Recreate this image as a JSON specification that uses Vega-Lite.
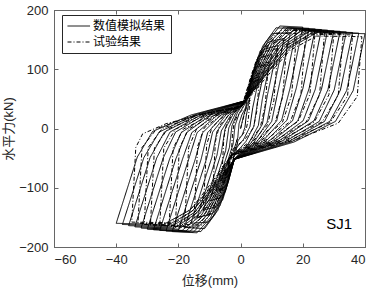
{
"$schema": "https://vega.github.io/schema/vega-lite/v6.json",
"width": 311, "height": 237,
"autosize": "none",
"padding": {"left": 54, "top": 10, "right": 13, "bottom": 42},
"background": "white",
"config": {
  "view": {"stroke": "#666666", "strokeWidth": 1},
  "axis": {"grid": false, "domainColor": "#666666", "tickColor": "#666666", "labelColor": "#262626", "titleColor": "#262626", "labelFont": "Liberation Sans", "labelFontSize": 13, "titleFont": "Liberation Sans, Noto Sans CJK SC", "titleFontSize": 13, "titleFontWeight": "normal", "tickSize": -4, "labelPadding": 10}
},
"datasets": {
"sim": [
{"x":0,"y":0},{"x":1,"y":22},{"x":2,"y":40},{"x":3,"y":52},
{"x":1.8,"y":21},{"x":1.4,"y":2},{"x":0.5,"y":-11},{"x":-0.9,"y":-21},{"x":-1.3,"y":-34},{"x":-1.7,"y":-44},{"x":-2.2,"y":-48},{"x":-3,"y":-50},
{"x":-0.9,"y":-15},{"x":-0.5,"y":8},{"x":0.4,"y":23},{"x":1.6,"y":35},{"x":2.5,"y":59},{"x":3.3,"y":77},{"x":4.2,"y":84},{"x":6,"y":88},
{"x":3.9,"y":35},{"x":3.0,"y":3},{"x":1.0,"y":-18},{"x":-1.8,"y":-36},{"x":-2.6,"y":-58},{"x":-3.4,"y":-75},{"x":-4.3,"y":-82},{"x":-6,"y":-85},
{"x":-2.4,"y":-26},{"x":-1.8,"y":5},{"x":-0.4,"y":26},{"x":1.6,"y":43},{"x":2.9,"y":72},{"x":4.0,"y":95},{"x":5.4,"y":104},{"x":8,"y":108},
{"x":5.4,"y":43},{"x":4.3,"y":4},{"x":1.7,"y":-22},{"x":-2,"y":-44},{"x":-3.2,"y":-71},{"x":-4.3,"y":-93},{"x":-5.6,"y":-101},{"x":-8,"y":-105},
{"x":-3.6,"y":-32},{"x":-2.8,"y":4},{"x":-1.0,"y":27},{"x":1.6,"y":47},{"x":3.3,"y":82},{"x":4.8,"y":109},{"x":6.6,"y":120},{"x":10,"y":125},
{"x":7.0,"y":50},{"x":5.7,"y":5},{"x":2.5,"y":-26},{"x":-2,"y":-51},{"x":-3.6,"y":-83},{"x":-5.0,"y":-108},{"x":-6.8,"y":-117},{"x":-10,"y":-122},
{"x":-4.8,"y":-37},{"x":-3.8,"y":1},{"x":-1.6,"y":26},{"x":1.6,"y":47},{"x":3.7,"y":89},{"x":5.6,"y":121},{"x":7.8,"y":134},{"x":12,"y":140},
{"x":8.6,"y":56},{"x":7.0,"y":7},{"x":3.3,"y":-25},{"x":-2,"y":-52},{"x":-4.0,"y":-91},{"x":-5.8,"y":-121},{"x":-8.0,"y":-132},{"x":-12,"y":-138},
{"x":-6.2,"y":-41},{"x":-5.0,"y":-1},{"x":-2.3,"y":25},{"x":1.6,"y":47},{"x":4.1,"y":94},{"x":6.3,"y":131},{"x":9.0,"y":146},{"x":14,"y":152},
{"x":10.4,"y":61},{"x":8.5,"y":10},{"x":4.2,"y":-24},{"x":-2,"y":-52},{"x":-4.4,"y":-96},{"x":-6.6,"y":-130},{"x":-9.2,"y":-144},{"x":-14,"y":-150},
{"x":-7.6,"y":-45},{"x":-6.2,"y":-4},{"x":-3.0,"y":24},{"x":1.6,"y":47},{"x":4.5,"y":99},{"x":7.1,"y":139},{"x":10.2,"y":160},{"x":16,"y":162},
{"x":12.1,"y":65},{"x":10.0,"y":12},{"x":5.1,"y":-23},{"x":-2,"y":-52},{"x":-4.8,"y":-101},{"x":-7.3,"y":-138},{"x":-10.4,"y":-158},{"x":-16,"y":-160},
{"x":-9.2,"y":-48},{"x":-7.6,"y":-5},{"x":-3.8,"y":23},{"x":1.6,"y":47},{"x":4.9,"y":101},{"x":7.8,"y":144},{"x":11.4,"y":170},{"x":18,"y":168},
{"x":14.0,"y":67},{"x":11.6,"y":13},{"x":6.0,"y":-22},{"x":-2,"y":-52},{"x":-5.2,"y":-104},{"x":-8.1,"y":-144},{"x":-11.6,"y":-169},{"x":-18,"y":-167},
{"x":-10.9,"y":-50},{"x":-9.0,"y":-6},{"x":-4.7,"y":23},{"x":1.6,"y":47},{"x":5.3,"y":103},{"x":8.6,"y":146},{"x":12.6,"y":173},{"x":20,"y":171},
{"x":15.9,"y":68},{"x":13.2,"y":14},{"x":7.0,"y":-22},{"x":-2,"y":-52},{"x":-5.6,"y":-106},{"x":-8.8,"y":-148},{"x":-12.8,"y":-174},{"x":-20,"y":-172},
{"x":-12.7,"y":-52},{"x":-10.6,"y":-7},{"x":-5.6,"y":22},{"x":1.6,"y":47},{"x":5.7,"y":102},{"x":9.4,"y":145},{"x":13.8,"y":171},{"x":22,"y":169},
{"x":17.9,"y":68},{"x":14.9,"y":14},{"x":8.0,"y":-22},{"x":-2,"y":-52},{"x":-6.0,"y":-107},{"x":-9.6,"y":-150},{"x":-14.0,"y":-176},{"x":-22,"y":-174},
{"x":-14.6,"y":-52},{"x":-12.2,"y":-7},{"x":-6.5,"y":22},{"x":1.6,"y":47},{"x":6.1,"y":101},{"x":10.1,"y":144},{"x":15.0,"y":170},{"x":24,"y":168},
{"x":20.0,"y":67},{"x":16.7,"y":13},{"x":9.0,"y":-22},{"x":-2,"y":-52},{"x":-6.4,"y":-106},{"x":-10.4,"y":-149},{"x":-15.2,"y":-175},{"x":-24,"y":-173},
{"x":-16.7,"y":-52},{"x":-14.0,"y":-7},{"x":-7.6,"y":22},{"x":1.6,"y":47},{"x":6.5,"y":101},{"x":10.9,"y":143},{"x":16.2,"y":169},{"x":26,"y":167},
{"x":22.0,"y":67},{"x":18.4,"y":13},{"x":10.0,"y":-22},{"x":-2,"y":-52},{"x":-6.8,"y":-106},{"x":-11.1,"y":-148},{"x":-16.4,"y":-174},{"x":-26,"y":-172},
{"x":-18.7,"y":-52},{"x":-15.7,"y":-7},{"x":-8.6,"y":22},{"x":1.6,"y":47},{"x":6.9,"y":101},{"x":11.6,"y":142},{"x":17.4,"y":168},{"x":28,"y":166},
{"x":24.0,"y":66},{"x":20.1,"y":13},{"x":11.0,"y":-22},{"x":-2,"y":-52},{"x":-7.2,"y":-106},{"x":-11.9,"y":-147},{"x":-17.6,"y":-173},{"x":-28,"y":-171},
{"x":-20.8,"y":-51},{"x":-17.4,"y":-7},{"x":-9.6,"y":23},{"x":1.6,"y":47},{"x":7.3,"y":100},{"x":12.4,"y":141},{"x":18.6,"y":167},{"x":30,"y":165},
{"x":26.0,"y":66},{"x":21.8,"y":13},{"x":12.0,"y":-22},{"x":-2,"y":-52},{"x":-7.6,"y":-105},{"x":-12.6,"y":-146},{"x":-18.8,"y":-172},{"x":-30,"y":-170},
{"x":-22.8,"y":-51},{"x":-19.1,"y":-7},{"x":-10.6,"y":23},{"x":1.6,"y":47},{"x":7.7,"y":100},{"x":13.2,"y":141},{"x":19.8,"y":166},{"x":32,"y":164},
{"x":28.1,"y":66},{"x":23.6,"y":13},{"x":13.0,"y":-22},{"x":-2,"y":-52},{"x":-8.0,"y":-104},{"x":-13.4,"y":-145},{"x":-20.0,"y":-170},{"x":-32,"y":-168},
{"x":-24.9,"y":-50},{"x":-20.9,"y":-6},{"x":-11.7,"y":23},{"x":1.6,"y":47},{"x":8.1,"y":99},{"x":13.9,"y":140},{"x":21.0,"y":165},{"x":34,"y":163},
{"x":30.1,"y":65},{"x":25.3,"y":12},{"x":14.0,"y":-23},{"x":-2,"y":-52},{"x":-8.4,"y":-103},{"x":-14.2,"y":-143},{"x":-21.2,"y":-168},{"x":-34,"y":-166},
{"x":-27.0,"y":-50},{"x":-22.7,"y":-6},{"x":-12.7,"y":23},{"x":1.6,"y":47},{"x":8.5,"y":99},{"x":14.7,"y":139},{"x":22.2,"y":164},{"x":36,"y":162},
{"x":32.1,"y":65},{"x":27.0,"y":12},{"x":15.1,"y":-23},{"x":-2,"y":-52},{"x":-8.8,"y":-102},{"x":-14.9,"y":-142},{"x":-22.4,"y":-166},{"x":-36,"y":-164},
{"x":-29.1,"y":-49},{"x":-24.5,"y":-6},{"x":-13.8,"y":23},{"x":1.6,"y":47},{"x":8.9,"y":98},{"x":15.4,"y":138},{"x":23.4,"y":163},{"x":38,"y":161},
{"x":34.1,"y":64},{"x":28.7,"y":12},{"x":16.1,"y":-23},{"x":-2,"y":-52},{"x":-9.2,"y":-102},{"x":-15.7,"y":-140},{"x":-23.6,"y":-164},{"x":-38,"y":-162},
{"x":-31.1,"y":-49},{"x":-26.2,"y":-6},{"x":-14.8,"y":23},{"x":1.6,"y":47},{"x":9.3,"y":98},{"x":16.2,"y":137},{"x":24.6,"y":162},{"x":40,"y":160},
{"x":36.2,"y":64},{"x":30.5,"y":12},{"x":17.1,"y":-23},{"x":-2,"y":-52},{"x":-9.6,"y":-101},{"x":-16.4,"y":-138},{"x":-24.8,"y":-162},{"x":-40,"y":-160},
{"x":-33.2,"y":-48},{"x":-28.3,"y":-5},{"x":-15.8,"y":23},{"x":1.6,"y":47}
],
"test": [
{"x":0,"y":0},{"x":1,"y":20},{"x":2,"y":37},{"x":3,"y":48},
{"x":2.5,"y":17},{"x":1.9,"y":1},{"x":0.7,"y":-10},{"x":-1.2,"y":-19},{"x":-1.6,"y":-31},{"x":-1.9,"y":-40},{"x":-2.3,"y":-43},{"x":-3,"y":-45},
{"x":-2.6,"y":-9},{"x":-2.1,"y":9},{"x":-1.1,"y":21},{"x":0.5,"y":31},{"x":1.7,"y":54},{"x":2.7,"y":72},{"x":3.9,"y":79},{"x":6,"y":82},
{"x":5.2,"y":29},{"x":4.1,"y":1},{"x":1.4,"y":-18},{"x":-2.4,"y":-34},{"x":-3.2,"y":-55},{"x":-3.8,"y":-71},{"x":-4.6,"y":-77},{"x":-6,"y":-80},
{"x":-5.4,"y":-16},{"x":-4.5,"y":8},{"x":-2.5,"y":25},{"x":0.5,"y":38},{"x":2.4,"y":71},{"x":3.9,"y":97},{"x":5.8,"y":108},{"x":9,"y":112},
{"x":7.9,"y":39},{"x":6.3,"y":1},{"x":2.5,"y":-24},{"x":-3,"y":-45},{"x":-4.3,"y":-74},{"x":-5.4,"y":-97},{"x":-6.7,"y":-106},{"x":-9,"y":-110},
{"x":-8.1,"y":-22},{"x":-6.8,"y":5},{"x":-3.8,"y":23},{"x":0.5,"y":38},{"x":3.0,"y":82},{"x":5.1,"y":116},{"x":7.6,"y":130},{"x":12,"y":135},
{"x":10.7,"y":47},{"x":8.6,"y":6},{"x":3.9,"y":-22},{"x":-3,"y":-45},{"x":-5.0,"y":-86},{"x":-6.6,"y":-117},{"x":-8.6,"y":-130},{"x":-12,"y":-135},
{"x":-10.9,"y":-27},{"x":-9.2,"y":2},{"x":-5.2,"y":22},{"x":0.5,"y":38},{"x":3.7,"y":88},{"x":6.3,"y":128},{"x":9.5,"y":144},{"x":15,"y":150},
{"x":13.5,"y":53},{"x":11.0,"y":9},{"x":5.3,"y":-21},{"x":-3,"y":-45},{"x":-5.6,"y":-93},{"x":-7.8,"y":-131},{"x":-10.4,"y":-146},{"x":-15,"y":-152},
{"x":-13.8,"y":-30},{"x":-11.7,"y":1},{"x":-6.7,"y":21},{"x":0.5,"y":38},{"x":4.4,"y":93},{"x":7.5,"y":136},{"x":11.4,"y":161},{"x":18,"y":160},
{"x":16.4,"y":56},{"x":13.5,"y":11},{"x":6.7,"y":-20},{"x":-3,"y":-45},{"x":-6.3,"y":-98},{"x":-9.0,"y":-139},{"x":-12.3,"y":-163},{"x":-18,"y":-162},
{"x":-16.7,"y":-32},{"x":-14.1,"y":0},{"x":-8.1,"y":21},{"x":0.5,"y":38},{"x":5.0,"y":95},{"x":8.7,"y":140},{"x":13.2,"y":166},{"x":21,"y":165},
{"x":19.4,"y":58},{"x":16.0,"y":12},{"x":8.2,"y":-19},{"x":-3,"y":-45},{"x":-7.0,"y":-99},{"x":-10.2,"y":-142},{"x":-14.2,"y":-167},{"x":-21,"y":-166},
{"x":-19.7,"y":-33},{"x":-16.7,"y":-1},{"x":-9.6,"y":20},{"x":0.5,"y":38},{"x":5.7,"y":96},{"x":9.9,"y":140},{"x":15.1,"y":167},{"x":24,"y":166},
{"x":22.3,"y":58},{"x":18.5,"y":12},{"x":9.7,"y":-19},{"x":-3,"y":-45},{"x":-7.4,"y":-99},{"x":-11.0,"y":-141},{"x":-15.4,"y":-166},{"x":-23,"y":-165},
{"x":-21.7,"y":-33},{"x":-18.4,"y":-1},{"x":-10.6,"y":20},{"x":0.5,"y":38},{"x":6.3,"y":95},{"x":11.1,"y":139},{"x":16.9,"y":165},{"x":27,"y":164},
{"x":25.4,"y":57},{"x":21.1,"y":11},{"x":11.2,"y":-20},{"x":-3,"y":-45},{"x":-8.1,"y":-99},{"x":-12.2,"y":-140},{"x":-17.3,"y":-165},{"x":-26,"y":-164},
{"x":-24.7,"y":-33},{"x":-20.9,"y":-1},{"x":-12.1,"y":20},{"x":0.5,"y":38},{"x":7.0,"y":94},{"x":12.3,"y":137},{"x":18.8,"y":163},{"x":30,"y":162},
{"x":28.4,"y":57},{"x":23.7,"y":11},{"x":12.7,"y":-20},{"x":-3,"y":-45},{"x":-8.7,"y":-98},{"x":-13.4,"y":-139},{"x":-19.1,"y":-164},{"x":-29,"y":-163},
{"x":-27.7,"y":-33},{"x":-23.5,"y":-1},{"x":-13.6,"y":20},{"x":0.5,"y":38},{"x":7.7,"y":93},{"x":13.5,"y":136},{"x":20.7,"y":161},{"x":33,"y":160},
{"x":31.4,"y":56},{"x":26.2,"y":11},{"x":14.2,"y":-20},{"x":-3,"y":-45},{"x":-9.2,"y":-98},{"x":-14.2,"y":-139},{"x":-20.4,"y":-163},{"x":-31,"y":-162},
{"x":-29.7,"y":-32},{"x":-25.2,"y":0},{"x":-14.6,"y":21},{"x":0.5,"y":38},{"x":8.3,"y":92},{"x":14.7,"y":134},{"x":22.5,"y":159},{"x":36,"y":158},
{"x":34.4,"y":55},{"x":28.8,"y":10},{"x":15.7,"y":-20},{"x":-3,"y":-45},{"x":-9.6,"y":-97},{"x":-15.0,"y":-137},{"x":-21.6,"y":-161},{"x":-33,"y":-160},
{"x":-31.7,"y":-32},{"x":-26.9,"y":0},{"x":-15.6,"y":21},{"x":0.5,"y":38},{"x":9.0,"y":91},{"x":15.9,"y":132},{"x":24.4,"y":156},{"x":39,"y":155},
{"x":37.5,"y":54},{"x":31.4,"y":9},{"x":17.3,"y":-20},{"x":-3,"y":-45},{"x":-10.0,"y":-96},{"x":-15.8,"y":-135},{"x":-22.8,"y":-159},{"x":-35,"y":-158},
{"x":-33.7,"y":-32},{"x":-31.5,"y":-9},{"x":-24,"y":8},{"x":-12,"y":25},{"x":0.5,"y":38}
]
},
"layer": [
  {
    "data": {"name": "sim"},
    "mark": {"type": "line", "color": "black", "strokeWidth": 1},
    "encoding": {
      "x": {"field": "x", "type": "quantitative", "scale": {"domain": [-60, 40], "nice": false}, "axis": {"values": [-60, -40, -20, 0, 20, 40], "title": "位移(mm)", "titlePadding": 8}},
      "y": {"field": "y", "type": "quantitative", "scale": {"domain": [-200, 200], "nice": false}, "axis": {"values": [-200, -100, 0, 100, 200], "title": "水平力(kN)", "titlePadding": 3}},
      "strokeDash": {"datum": "A", "type": "nominal", "scale": {"domain": ["A", "B"], "range": [[1, 0], [4, 2, 1, 2]]},
        "legend": {"orient": "none", "legendX": 8, "legendY": 5, "title": null, "labelExpr": "datum.value == 'A' ? '数值模拟结果' : '试验结果'", "symbolType": "M-1,0H3.1", "symbolSize": 121, "symbolStrokeColor": "black", "symbolStrokeWidth": 1, "labelFont": "Noto Sans CJK SC", "labelFontSize": 12, "labelColor": "#000000", "labelOffset": 14, "padding": 5, "rowPadding": 4, "strokeColor": "#262626", "fillColor": "white"}},
      "order": {"value": null}
    }
  },
  {
    "data": {"name": "test"},
    "mark": {"type": "line", "color": "black", "strokeWidth": 1},
    "encoding": {
      "x": {"field": "x", "type": "quantitative", "scale": {"domain": [-60, 40], "nice": false}, "axis": null},
      "y": {"field": "y", "type": "quantitative", "scale": {"domain": [-200, 200], "nice": false}, "axis": null},
      "strokeDash": {"datum": "B", "type": "nominal"},
      "order": {"value": null}
    }
  },
  {
    "data": {"values": [{"x": -60, "y": -200}]},
    "mark": {"type": "point", "opacity": 0},
    "encoding": {
      "x": {"field": "x", "type": "quantitative", "scale": {"domain": [-60, 40], "nice": false}, "axis": {"orient": "top", "values": [-60, -40, -20, 0, 20, 40], "labels": false, "title": null}},
      "y": {"field": "y", "type": "quantitative", "scale": {"domain": [-200, 200], "nice": false}, "axis": {"orient": "right", "values": [-200, -100, 0, 100, 200], "labels": false, "title": null}}
    }
  },
  {
    "data": {"values": [{"x": 31.7, "y": -162, "t": "SJ1"}]},
    "mark": {"type": "text", "font": "Liberation Sans", "fontSize": 15, "color": "#000000", "align": "center", "baseline": "middle"},
    "encoding": {
      "x": {"field": "x", "type": "quantitative", "axis": null},
      "y": {"field": "y", "type": "quantitative", "axis": null},
      "text": {"field": "t"}
    }
  }
],
"resolve": {"axis": {"x": "independent", "y": "independent"}}
}
